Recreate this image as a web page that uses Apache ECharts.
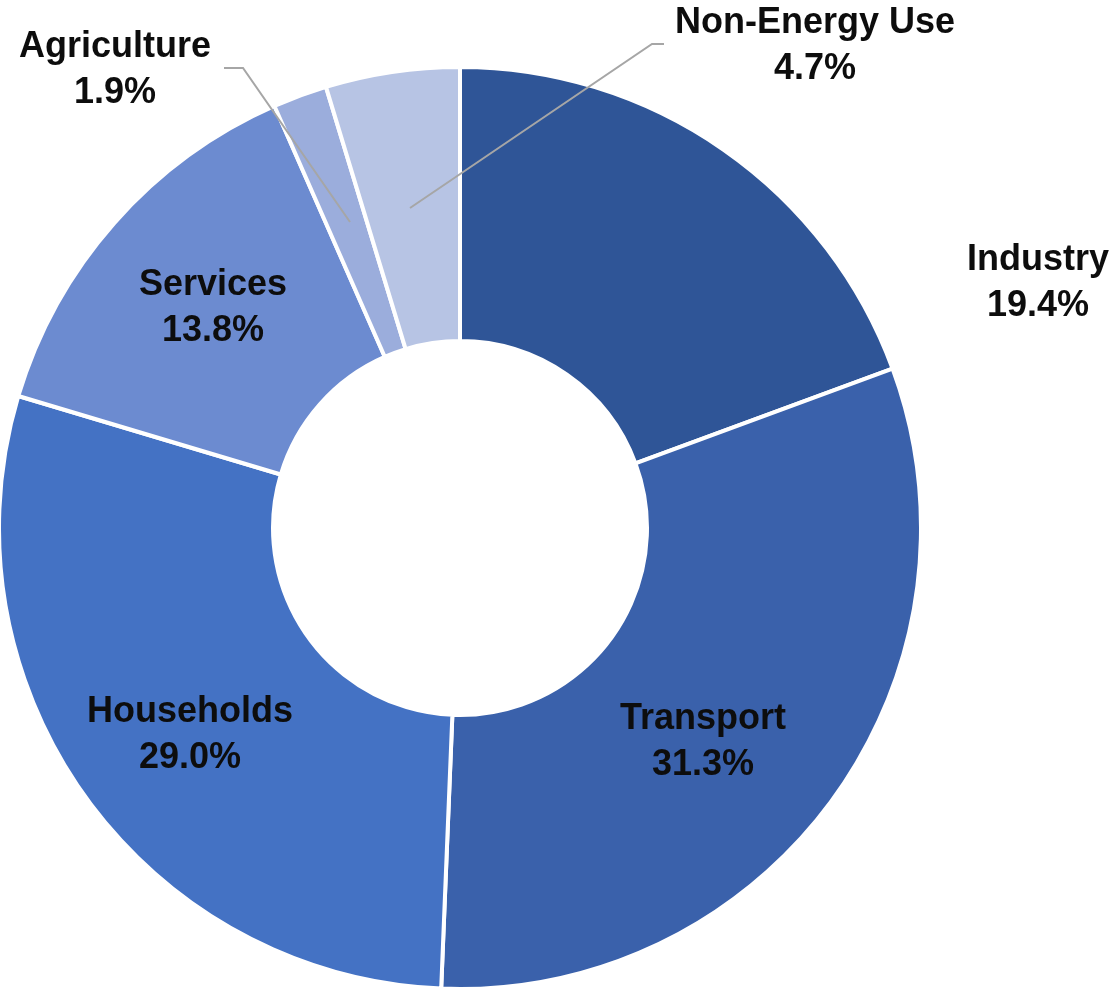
<!DOCTYPE html>
<html>
<head>
    <meta charset="utf-8">
    <script src="https://cdn.jsdelivr.net/npm/echarts@6/dist/echarts.min.js"></script>
    <style>
        html, body { margin: 0; padding: 0; background: #fff; }
        #main { width: 1114px; height: 989px; }
    </style>
</head>
<body>
<div id="main"></div>
<script type="text/javascript">
    // sectors, clockwise from 12 o'clock
    var sectors = ['Industry', 'Transport', 'Households', 'Services', 'Agriculture', 'Non-Energy Use'];
    var shares = [19.4, 31.3, 29.0, 13.8, 1.9, 4.7];
    var colors = ['#2F5597', '#3A61AB', '#4472C4', '#6C8BD0', '#9BADDC', '#B7C4E4'];

    // where each label sits (chart pixels)
    var labelPos = [
        {x: 1038, y: 283},
        {x: 703, y: 742},
        {x: 190, y: 735},
        {x: 213, y: 308},
        {x: 115, y: 70},
        {x: 815, y: 46}
    ];
    // leader lines for the two thin slices, drawn over the ring
    var leaders = [
        [[350, 222], [243, 68], [224, 68]],
        [[410, 208], [652, 44], [664, 44]]
    ];

    var myChart = echarts.init(document.getElementById('main'));

    var pieData = sectors.map(function (name, i) {
        return {
            name: name,
            value: shares[i],
            itemStyle: {color: colors[i]}
        };
    });

    myChart.setOption({
        animation: false,
        backgroundColor: '#ffffff',
        graphic: leaders.map(function (pts) {
            return {
                type: 'polyline',
                z: 100,
                shape: {points: pts},
                style: {stroke: '#A6A6A6', lineWidth: 2, fill: null}
            };
        }),
        series: [{
            type: 'pie',
            center: [460, 528],
            radius: [187, 461],
            startAngle: 90,
            clockwise: true,
            avoidLabelOverlap: false,
            data: pieData,
            itemStyle: {
                borderColor: '#ffffff',
                borderWidth: 4
            },
            label: {
                show: true,
                position: 'outside',
                formatter: function (p) {
                    return p.name + '\n' + p.value.toFixed(1) + '%';
                },
                color: '#0D0D0D',
                fontFamily: 'Liberation Sans, Arial, sans-serif',
                fontWeight: 'bold',
                fontSize: 36,
                lineHeight: 46,
                align: 'center'
            },
            labelLine: {show: false},
            labelLayout: function (params) {
                var pos = labelPos[params.dataIndex];
                return {
                    x: pos.x,
                    y: pos.y,
                    align: 'center',
                    verticalAlign: 'middle'
                };
            }
        }]
    });
</script>
</body>
</html>
